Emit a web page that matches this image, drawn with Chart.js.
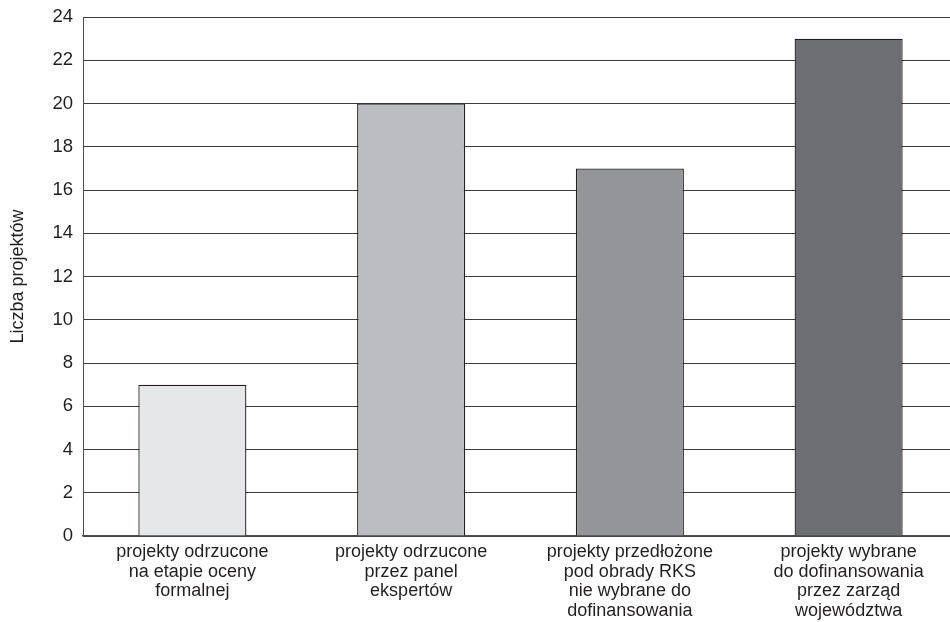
<!DOCTYPE html>
<html>
<head>
<meta charset="utf-8">
<script src="https://cdn.jsdelivr.net/npm/chart.js@4/dist/chart.umd.min.js"></script>
<style>
  html, body { margin: 0; padding: 0; background: #fff; overflow: hidden; }
  #wrap { width: 958px; height: 622px; }
</style>
</head>
<body>
<div id="wrap"><canvas id="projekty"></canvas></div>
<script>
  // data
  var categories = [
    ['projekty odrzucone', 'na etapie oceny', 'formalnej'],
    ['projekty odrzucone', 'przez panel', 'ekspertów'],
    ['projekty przedłożone', 'pod obrady RKS', 'nie wybrane do', 'dofinansowania'],
    ['projekty wybrane', 'do dofinansowania', 'przez zarząd', 'województwa']
  ];
  var counts = [7, 20, 17, 23];
  var barColors = ['#e6e7e8', '#bcbdc0', '#939598', '#6d6e71'];
  var yTicks = [0, 2, 4, 6, 8, 10, 12, 14, 16, 18, 20, 22, 24];

  Chart.defaults.font.family = '"Liberation Sans", Arial, sans-serif';
  Chart.defaults.color = '#231f20';

  var ctx = document.getElementById('projekty');
  var chart = new Chart(ctx, {
    type: 'bar',
    data: {
      labels: categories,
      datasets: [{
        label: 'Liczba projektów',
        data: counts,
        backgroundColor: barColors,
        borderColor: '#231f20',
        borderWidth: 1.3,
        barPercentage: 0.494,
        categoryPercentage: 1
      }]
    },
    options: {
      responsive: true,
      maintainAspectRatio: false,
      animation: false,
      layout: { padding: { top: 17, right: 0, left: 0, bottom: 0 } },
      plugins: {
        legend: { display: false },
        tooltip: { enabled: false }
      },
      scales: {
        x: {
          grid: { display: false, drawTicks: false },
          border: { color: '#4d4d4f', width: 1.5 },
          ticks: {
            font: { size: 18, lineHeight: 1.1 },
            padding: 6,
            maxRotation: 0,
            autoSkip: false
          },
          afterFit: function(axis) { axis.height = 86; }
        },
        y: {
          min: 0,
          max: 24,
          afterBuildTicks: function(axis) {
            axis.ticks = yTicks.map(function(v) { return { value: v }; });
          },
          grid: { color: '#3c3c3e', lineWidth: 1, drawTicks: false },
          border: { color: '#4d4d4f', width: 1 },
          ticks: { font: { size: 18.5 }, padding: 10 },
          title: {
            display: true,
            text: 'Liczba projektów',
            font: { size: 18 },
            padding: { top: 7, bottom: 0 }
          },
          afterFit: function(axis) {
            axis.width = 83;
            // let layout padding alone fix the top of the plot
            axis.paddingTop = 0;
            axis.paddingBottom = 0;
          }
        }
      }
    }
  });
</script>
</body>
</html>
